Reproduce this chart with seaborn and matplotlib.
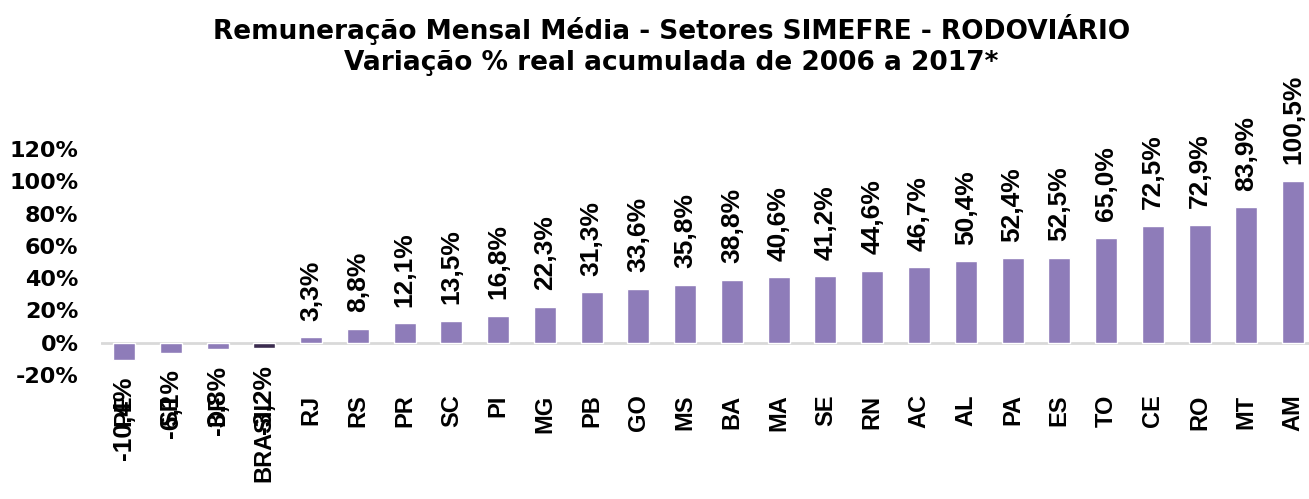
import matplotlib
matplotlib.use("Agg")
import matplotlib.pyplot as plt
import seaborn as sns
import pandas as pd

categories = ["PE", "SP", "DF", "BRASIL", "RJ", "RS", "PR", "SC", "PI", "MG", "PB", "GO", "MS",
              "BA", "MA", "SE", "RN", "AC", "AL", "PA", "ES", "TO", "CE", "RO", "MT", "AM"]
values = [-10.4, -6.1, -3.8, -3.2, 3.3, 8.8, 12.1, 13.5, 16.8, 22.3, 31.3, 33.6, 35.8,
          38.8, 40.6, 41.2, 44.6, 46.7, 50.4, 52.4, 52.5, 65.0, 72.5, 72.9, 83.9, 100.5]
yticks = [-20, 0, 20, 40, 60, 80, 100, 120]
title_lines = ["Remuneração Mensal Média - Setores SIMEFRE - RODOVIÁRIO",
               "Variação % real acumulada de 2006 a 2017*"]

sns.set_theme(style="white")
plt.rcParams['font.family'] = ['DejaVu Sans']
plt.rcParams['font.weight'] = 'bold'
plt.rcParams['text.color'] = 'black'
plt.rcParams['xtick.color'] = 'black'
plt.rcParams['ytick.color'] = 'black'
NARROW = ['Liberation Sans', 'DejaVu Sans']

df = pd.DataFrame({"cat": categories, "val": values})
main = "#8E7CB9"
dark = "#3B2C4F"
palette = {c: (dark if c == "BRASIL" else main) for c in categories}

fig = plt.figure(figsize=(13.09, 4.99), dpi=100)
ax = fig.add_axes([0.0769, 0.2485, 0.9231, 0.4525])
sns.barplot(data=df, x="cat", y="val", hue="cat", palette=palette, legend=False,
            width=0.47, ax=ax, saturation=1)

ax.set_xlim(-0.5, 25.34)
ax.set_ylim(-20, 120)
ax.set_yticks(yticks)
ax.set_yticklabels([f"{t}%" for t in yticks], fontsize=16, fontweight='bold', color='black')
ax.tick_params(axis='y', length=0, pad=16)
ax.tick_params(axis='x', length=0, pad=14)
for lbl in ax.get_xticklabels():
    lbl.set_rotation(90)
    lbl.set_fontsize(17)
    lbl.set_family(NARROW)
    lbl.set_fontweight('bold')
    lbl.set_color('black')
    lbl.set_va('top')
ax.set_xlabel("")
ax.set_ylabel("")
for s in ax.spines.values():
    s.set_visible(False)
ax.axhline(0, color="#D9D9D9", lw=2, zorder=0.5)

for i, v in enumerate(values):
    txt = f"{v:.1f}%".replace(".", ",")
    if v >= 0:
        ax.annotate(txt, (i, v), xytext=(0, 12), textcoords="offset points",
                    rotation=90, ha="center", va="bottom", fontsize=19, family=NARROW,
                    fontweight="bold", color="black", annotation_clip=False)
    else:
        ax.annotate(txt, (i, v), xytext=(0, -12), textcoords="offset points",
                    rotation=90, ha="center", va="top", fontsize=19, family=NARROW,
                    fontweight="bold", color="black", annotation_clip=False)

fig.text(0.513, 0.94, title_lines[0], ha="center", va="center", fontsize=19, fontweight="bold")
fig.text(0.513, 0.873, title_lines[1], ha="center", va="center", fontsize=19, fontweight="bold")

fig.savefig("out.png", dpi=100)
